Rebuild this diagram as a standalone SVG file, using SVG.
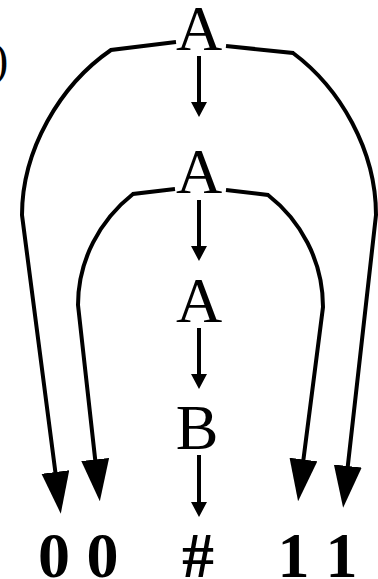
<svg xmlns="http://www.w3.org/2000/svg" width="378" height="579" viewBox="0 0 378 579">
<style>
.n{font-family:"Liberation Serif","Times New Roman",serif;font-size:64px;fill:#000;text-anchor:middle}
.b{font-weight:bold}
.e{fill:none;stroke:#000;stroke-width:4}
</style>
<defs>
<marker id="big" markerUnits="userSpaceOnUse" markerWidth="44" markerHeight="30" refX="1" refY="14" orient="auto">
<path d="M0,0 L42,14 L0,28 z" fill="#000"/>
</marker>
<marker id="small" markerUnits="userSpaceOnUse" markerWidth="17" markerHeight="18" refX="1" refY="8" orient="auto">
<path d="M0,0 L15,8 L0,16 z" fill="#000"/>
</marker>
</defs>
<rect width="378" height="579" fill="#fff"/>
<text x="-7" y="75" font-family="Liberation Serif, serif" font-size="46">)</text>
<g id="edges">
<path class="e" d="M199,56 L199,103" marker-end="url(#small)"/>
<path class="e" d="M199,200 L199,247" marker-end="url(#small)"/>
<path class="e" d="M199,328 L199,375" marker-end="url(#small)"/>
<path class="e" d="M199,455 L199,503" marker-end="url(#small)"/>
<path class="e" d="M176,42 L111,50 C60,85 22,150 22,215 L55.5,473" marker-end="url(#big)"/>
<path class="e" d="M226,46 L293,53 C340,88 376,150 376,215 L347.7,467" marker-end="url(#big)"/>
<path class="e" d="M175,189 L133,194 C100,220 78,260 78,305 L95.3,460.5" marker-end="url(#big)"/>
<path class="e" d="M226,190 L268,195 C300,220 323,260 323,307 L303.3,460.5" marker-end="url(#big)"/>
</g>
<g id="A1"><text class="n" x="199" y="50">A</text></g>
<g id="A2"><text class="n" x="199" y="193">A</text></g>
<g id="A3"><text class="n" x="199" y="322">A</text></g>
<g id="B"><text class="n" x="197" y="449">B</text></g>
<g id="z1"><text class="n b" x="54" y="577">0</text></g>
<g id="z2"><text class="n b" x="102.5" y="577">0</text></g>
<g id="hash"><text class="n b" x="198" y="577">#</text></g>
<g id="o1"><text class="n b" x="293.5" y="577">1</text></g>
<g id="o2"><text class="n b" x="341.5" y="577">1</text></g>
</svg>
